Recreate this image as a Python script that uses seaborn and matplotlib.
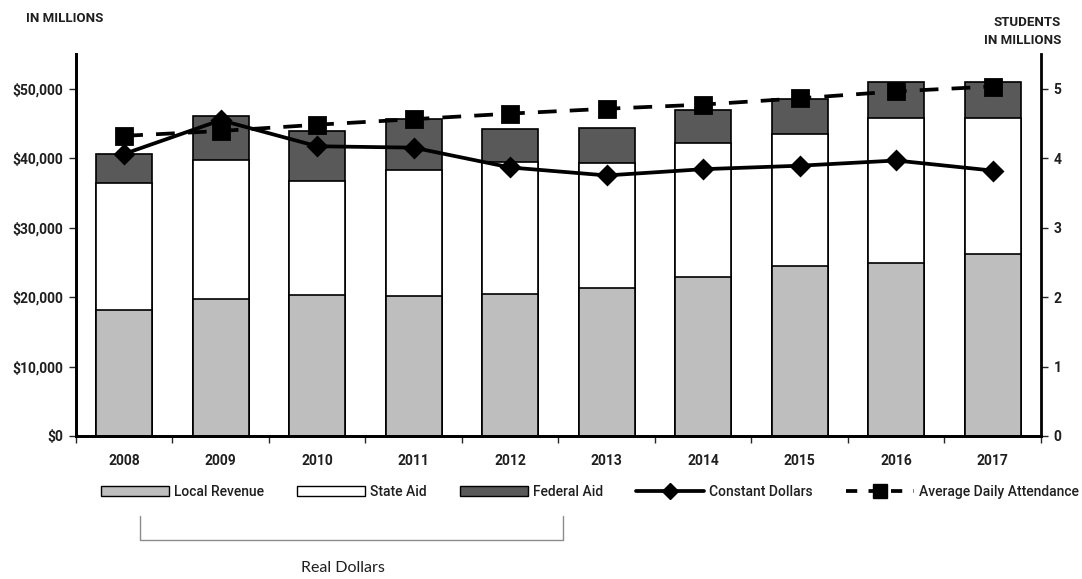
import numpy as np
import pandas as pd
import matplotlib
matplotlib.use("Agg")
import matplotlib.pyplot as plt
from matplotlib.patches import Patch
from matplotlib.lines import Line2D
from matplotlib.ticker import FuncFormatter, FixedLocator
import seaborn as sns

# Data (dollars in millions, students in millions)
years = ['2008', '2009', '2010', '2011', '2012', '2013', '2014', '2015', '2016', '2017']
local_revenue = [18200, 19650, 20250, 20150, 20450, 21350, 22850, 24400, 24850, 26250]
state_aid = [18150, 20050, 16450, 18100, 18950, 17950, 19250, 19100, 20850, 19550]
federal_aid = [4300, 6300, 7250, 7400, 4850, 5050, 4850, 5000, 5200, 5100]
constant_dollars = [40600, 45450, 41700, 41500, 38650, 37500, 38400, 38900, 39650, 38200]
avg_daily_attendance = [4.32, 4.39, 4.48, 4.56, 4.64, 4.71, 4.77, 4.86, 4.96, 5.03]

# colours
c_local = '#bebebe'
c_state = '#ffffff'
c_federal = '#595959'
txt = '#1f1f1f'

sns.set_theme(style='ticks')
plt.rcParams['font.family'] = ['Roboto', 'DejaVu Sans']
plt.rcParams['axes.linewidth'] = 2

df = pd.DataFrame({'year': years, 'local': local_revenue, 'state': state_aid,
                   'federal': federal_aid})
df['state_top'] = df['local'] + df['state']
df['federal_top'] = df['state_top'] + df['federal']

fig = plt.figure(figsize=(10.82, 5.79), dpi=100)
ax = fig.add_axes([0.0702, 0.247, 0.8918, 0.66])

# stacked bars: draw cumulative totals from the top segment down
bar_kw = dict(width=0.58, edgecolor='black', linewidth=1.2, saturation=1, ax=ax)
sns.barplot(data=df, x='year', y='federal_top', color=c_federal, **bar_kw)
sns.barplot(data=df, x='year', y='state_top', color=c_state, **bar_kw)
sns.barplot(data=df, x='year', y='local', color=c_local, **bar_kw)

sns.pointplot(x=years, y=constant_dollars, color='black', markers='D',
              linestyles='-', errorbar=None, ax=ax, markersize=9, linewidth=2.7)

ax2 = ax.twinx()
sns.pointplot(x=years, y=avg_daily_attendance, color='black', markers='s',
              linestyles='--', errorbar=None, ax=ax2, markersize=11, linewidth=2.7)
for ln in ax2.lines:
    ln.set_dashes((5, 3.5))

ax.set_xlim(-0.5, len(years) - 0.5)
ax.set_ylim(0, 55000)
ax2.set_ylim(0, 5.5)
ax.set_yticks(np.arange(0, 50001, 10000))
ax.yaxis.set_major_formatter(FuncFormatter(lambda v, p: f'${v:,.0f}'))
ax2.set_yticks(np.arange(0, 6, 1))
ax2.yaxis.set_major_formatter(FuncFormatter(lambda v, p: f'{v:.0f}'))

ax.set_xlabel('')
ax.set_ylabel('')
ax2.set_xlabel('')
ax2.set_ylabel('')

for a in (ax, ax2):
    a.spines['top'].set_visible(False)
    a.spines['left'].set_color('black')
    a.spines['right'].set_color('black')
    a.spines['bottom'].set_color('black')
ax.spines['right'].set_visible(False)

# x ticks between categories, labels at centres
ax.xaxis.set_minor_locator(FixedLocator(np.arange(-0.5, len(years), 1.0)))
ax.tick_params(axis='x', which='major', length=0, pad=13, labelsize=10,
               labelcolor=txt)
ax.tick_params(axis='x', which='minor', length=5, width=1, direction='out')
ax.tick_params(axis='y', length=5, width=1, direction='out', labelsize=10,
               labelcolor=txt, pad=4)
ax2.tick_params(axis='y', length=5, width=1, direction='out', labelsize=10,
                labelcolor=txt, pad=4)
for lab in ax.get_xticklabels() + ax.get_yticklabels() + ax2.get_yticklabels():
    lab.set_fontweight('bold')

# axis unit titles
fig.text(26 / 1082, 1 - 18 / 579, 'IN MILLIONS', ha='left', va='center',
         fontsize=9.5, fontweight='bold', color=txt)
fig.text(1061 / 1082, 1 - 32 / 579, 'STUDENTS\nIN MILLIONS', ha='right', va='center',
         fontsize=9.5, fontweight='bold', color=txt, linespacing=1.5, multialignment='right')

handles = [
    Patch(facecolor=c_local, edgecolor='black', linewidth=1),
    Patch(facecolor=c_state, edgecolor='black', linewidth=1),
    Patch(facecolor=c_federal, edgecolor='black', linewidth=1),
    Line2D([], [], color='black', lw=2.7, marker='D', markersize=8),
    Line2D([], [], color='black', lw=2.7, ls=(0, (3, 3)), marker='s', markersize=10),
]
labels = ['Local Revenue', 'State Aid', 'Federal Aid', 'Constant Dollars',
          'Average Daily Attendance']
leg = fig.legend(handles, labels, loc='center', bbox_to_anchor=(590 / 1082, 1 - 492 / 579),
                 ncol=5, frameon=False, fontsize=10, handlelength=4.9,
                 handleheight=0.8, handletextpad=0.35, columnspacing=2.4,
                 prop={'size': 10, 'weight': 'medium'})
for t in leg.get_texts():
    t.set_color(txt)

# bracket under the dollar series
bx0, bx1 = 140 / 1082, 563 / 1082
by0, by1 = 1 - 516 / 579, 1 - 540 / 579
fig.add_artist(Line2D([bx0, bx0, bx1, bx1], [by0, by1, by1, by0],
                      transform=fig.transFigure, color='#8c8c8c', lw=1))
fig.text(343 / 1082, 1 - 568 / 579, 'Real Dollars', ha='center', va='center',
         fontsize=11.5, color=txt, family=['Lato', 'DejaVu Sans'])

fig.savefig('out.png', dpi=100)
